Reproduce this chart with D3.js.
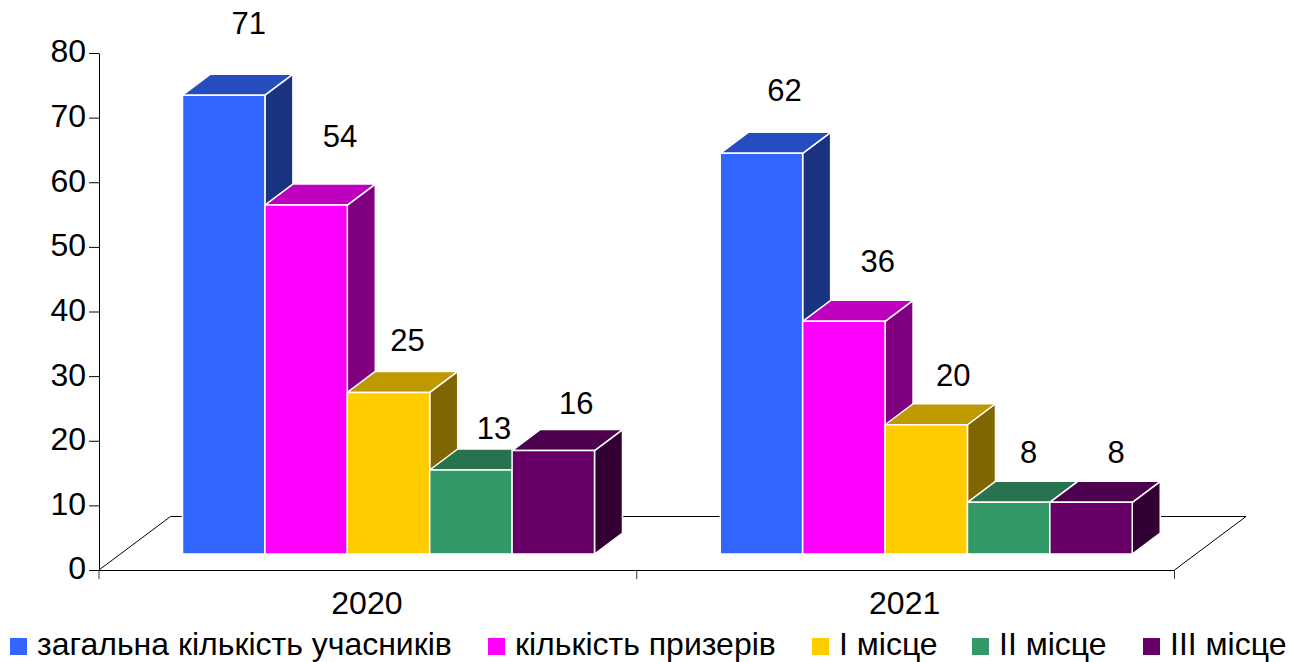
<!DOCTYPE html>
<html>
<head>
<meta charset="utf-8">
<style>
  html, body { margin: 0; padding: 0; background: #fff; }
  svg { display: block; font-family: "Liberation Sans", Arial, sans-serif; }
</style>
<script src="https://cdn.jsdelivr.net/npm/d3@7"></script>
</head>
<body>
<svg width="1289" height="662"></svg>
<script>
const years = ["2020", "2021"];
const seriesNames = ["загальна кількість учасників", "кількість призерів", "I місце", "II місце", "III місце"];
const values2020 = [71, 54, 25, 13, 16];
const values2021 = [62, 36, 20, 8, 8];
const yTicks = [0, 10, 20, 30, 40, 50, 60, 70, 80];
const seriesColors = ["#3366ff", "#ff00ff", "#ffcc00", "#339966", "#660066"];

// where the labels were hand placed in the original, [dx, dy] from bar top centre
const labelNudge = [
  [[25, -72], [34, -69], [19, -53], [23, -42], [23, -48]],
  [[23, -63], [34, -61], [27, -50], [20, -50], [25, -50]]
];
const legendX = [10, 488, 812, 972, 1143];

const depthX = 28, depthY = 21, baseLift = 16;
const axisX0 = 99, axisX1 = 1174.5, axisY0 = 570;

const svg = d3.select("svg");

const x = d3.scaleBand().domain(years).range([axisX0, axisX1]);
const inner = d3.scaleBand().domain(seriesNames).range([83.5, 83.5 + 412]);
const y = d3.scaleLinear().domain([0, 80]).range([axisY0, 53]);

// floor
svg.append("path")
  .attr("fill", "none")
  .attr("stroke", "#000")
  .attr("stroke-width", 1)
  .attr("d", d3.line()([
    [axisX0, axisY0],
    [axisX0 + 71.5, axisY0 - 53.5],
    [axisX1 + 71.5, axisY0 - 53.5],
    [axisX1, axisY0]
  ]));

// axes
const yAxis = svg.append("g")
  .attr("transform", `translate(${axisX0},0)`)
  .call(d3.axisLeft(y).tickValues(yTicks).tickSize(10).tickSizeOuter(0).tickPadding(3));
yAxis.selectAll("text").attr("font-size", 32).attr("fill", "#000").attr("dy", "0.28em");
yAxis.attr("font-family", null);

svg.append("g")
  .selectAll("line")
  .data([axisX0, x("2021"), axisX1])
  .join("line")
    .attr("x1", d => d).attr("x2", d => d)
    .attr("y1", axisY0).attr("y2", axisY0 + 9)
    .attr("stroke", "#333");
svg.append("line")
  .attr("x1", axisX0).attr("x2", axisX1)
  .attr("y1", axisY0 + 0.5).attr("y2", axisY0 + 0.5)
  .attr("stroke", "#000");

svg.append("g")
  .selectAll("text")
  .data(years)
  .join("text")
    .attr("x", d => x(d) + x.bandwidth() / 2 - 1)
    .attr("y", 614)
    .attr("text-anchor", "middle")
    .attr("font-size", 32)
    .text(d => d);

// 3d bars, left to right so each one covers the side of the previous
const shade = (c, k) => {
  const {r, g, b} = d3.rgb(c);
  return d3.rgb(r * k, g * k, b * k).formatHex();
};
const rows = [values2020, values2021];

years.forEach((year, yi) => {
  const g = svg.append("g").attr("class", "year-" + year);
  const bars = seriesNames.map((name, i) => ({name, value: rows[yi][i], color: seriesColors[i], nudge: labelNudge[yi][i]}));

  bars.forEach(d => {
    const x0 = x(year) + inner(d.name);
    const x1 = x0 + inner.bandwidth();
    const top = y(d.value) - baseLift;
    const bottom = y(0) - baseLift;

    const bar = g.append("g")
      .attr("stroke", "#fff")
      .attr("stroke-width", 1.5)
      .attr("stroke-linejoin", "round");

    bar.append("path")
      .attr("fill", shade(d.color, 0.5))
      .attr("d", d3.line()([[x1, top], [x1 + depthX, top - depthY], [x1 + depthX, bottom - depthY], [x1, bottom]]) + "Z");
    bar.append("path")
      .attr("fill", shade(d.color, 0.75))
      .attr("d", d3.line()([[x0, top], [x0 + depthX, top - depthY], [x1 + depthX, top - depthY], [x1, top]]) + "Z");
    bar.append("rect")
      .attr("x", x0).attr("y", top)
      .attr("width", x1 - x0).attr("height", bottom - top)
      .attr("fill", d.color);
  });

  g.selectAll("text.value")
    .data(bars)
    .join("text")
      .attr("class", "value")
      .attr("x", d => x(year) + inner(d.name) + inner.bandwidth() / 2 + d.nudge[0])
      .attr("y", d => y(d.value) - baseLift + d.nudge[1])
      .attr("dy", "0.36em")
      .attr("text-anchor", "middle")
      .attr("font-size", 31)
      .text(d => d.value);
});

// legend
const legend = svg.append("g")
  .selectAll("g")
  .data(seriesNames)
  .join("g")
    .attr("transform", (d, i) => `translate(${legendX[i]},638)`);
legend.append("rect")
  .attr("width", 17).attr("height", 17)
  .attr("fill", (d, i) => seriesColors[i]);
legend.append("text")
  .attr("x", 27)
  .attr("y", 17)
  .attr("font-size", 32)
  .text(d => d);
</script>
</body>
</html>
